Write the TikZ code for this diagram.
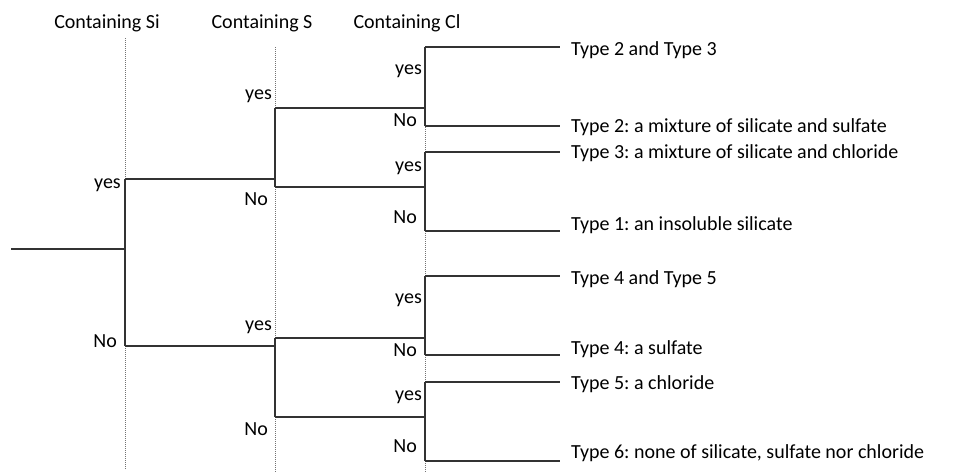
\documentclass[tikz,border=0pt]{standalone}
\usepackage{fontspec}
\setmainfont{Carlito}
\usetikzlibrary{positioning}

\begin{document}
\frenchspacing
\begin{tikzpicture}[
    x=1pt, y=-1pt,
    font=\fontsize{20}{24}\selectfont,
    branch/.style={draw=black!80, line width=1.2pt},
    guide/.style={draw=black!55, dash pattern=on 1pt off 1pt, line width=0.9pt},
    header/.style={anchor=base, inner sep=0pt},
    answer/.style={anchor=base east, inner sep=0pt},
    outcome/.style={anchor=base west, inner sep=0pt}
]
    \useasboundingbox (0,0) rectangle (974,474);

    % Column headers
    \node[header] (hsi) at (107,28) {Containing Si};
    \node[header] (hs)  at (262,28) {Containing S};
    \node[header] (hcl) at (407,28) {Containing Cl};

    % Dotted guides
    \coordinate (g1top) at (125,38);  \coordinate (g1bot) at (125,469);
    \coordinate (g2top) at (275,47);  \coordinate (g2bot) at (275,473);
    \coordinate (g3top) at (425,47);  \coordinate (g3bot) at (425,473);
    \draw[guide] (g1top) -- (g1bot);
    \draw[guide] (g2top) -- (g2bot);
    \draw[guide] (g3top) -- (g3bot);

    % Branch points
    \coordinate (root) at (11,249);
    \coordinate (si)   at (125,249);
    \coordinate (siy)  at (125,179);
    \coordinate (sin)  at (125,346);

    \coordinate (s1)  at (275,179);
    \coordinate (s1y) at (275,108);
    \coordinate (s1n) at (275,187);
    \coordinate (s2)  at (275,346);
    \coordinate (s2y) at (275,338);
    \coordinate (s2n) at (275,417);

    \coordinate (c1)  at (425,108);
    \coordinate (c1y) at (425,47);
    \coordinate (c1n) at (425,126);
    \coordinate (c2)  at (425,187);
    \coordinate (c2y) at (425,152);
    \coordinate (c2n) at (425,231);
    \coordinate (c3)  at (425,338);
    \coordinate (c3y) at (425,276);
    \coordinate (c3n) at (425,355);
    \coordinate (c4)  at (425,417);
    \coordinate (c4y) at (425,382);
    \coordinate (c4n) at (425,461);

    % Leaf ends
    \coordinate (e1) at (560,47);
    \coordinate (e2) at (560,126);
    \coordinate (e3) at (560,152);
    \coordinate (e4) at (560,231);
    \coordinate (e5) at (560,276);
    \coordinate (e6) at (560,355);
    \coordinate (e7) at (560,382);
    \coordinate (e8) at (560,461);

    % Tree
    \draw[branch] (root) -- (si);
    \draw[branch] (siy) -- (sin);
    \draw[branch] (siy) -- (s1);
    \draw[branch] (sin) -- (s2);
    \draw[branch] (s1y) -- (s1n);
    \draw[branch] (s2y) -- (s2n);
    \draw[branch] (s1y) -- (c1);
    \draw[branch] (s1n) -- (c2);
    \draw[branch] (s2y) -- (c3);
    \draw[branch] (s2n) -- (c4);
    \draw[branch] (c1y) -- (c1n);
    \draw[branch] (c2y) -- (c2n);
    \draw[branch] (c3y) -- (c3n);
    \draw[branch] (c4y) -- (c4n);
    \draw[branch] (c1y) -- (e1);
    \draw[branch] (c1n) -- (e2);
    \draw[branch] (c2y) -- (e3);
    \draw[branch] (c2n) -- (e4);
    \draw[branch] (c3y) -- (e5);
    \draw[branch] (c3n) -- (e6);
    \draw[branch] (c4y) -- (e7);
    \draw[branch] (c4n) -- (e8);

    % Answers
    \node[answer] (siyes) at (121,188) {yes};
    \node[answer] (sino)  at (117,347) {No};
    \node[answer] (s1yes) at (272,99)  {yes};
    \node[answer] (s1no)  at (268,205) {No};
    \node[answer] (s2yes) at (272,330) {yes};
    \node[answer] (s2no)  at (268,435) {No};
    \node[answer] (c1yes) at (422,74)  {yes};
    \node[answer] (c1no)  at (417,126) {No};
    \node[answer] (c2yes) at (422,171) {yes};
    \node[answer] (c2no)  at (417,223) {No};
    \node[answer] (c3yes) at (422,303) {yes};
    \node[answer] (c3no)  at (417,356) {No};
    \node[answer] (c4yes) at (422,400) {yes};
    \node[answer] (c4no)  at (417,452) {No};

    % Outcomes
    \node[outcome] (t23) at (571,55)  {Type 2 and Type 3};
    \node[outcome] (t2)  at (571,132) {Type 2: a mixture of silicate and sulfate};
    \node[outcome] (t3)  at (571,158) {Type 3: a mixture of silicate and chloride};
    \node[outcome] (t1)  at (571,230) {Type 1: an insoluble silicate};
    \node[outcome] (t45) at (571,284) {Type 4 and Type 5};
    \node[outcome] (t4)  at (571,354) {Type 4: a sulfate};
    \node[outcome] (t5)  at (571,389) {Type 5: a chloride};
    \node[outcome] (t6)  at (571,458) {Type 6: none of silicate, sulfate nor chloride};
\end{tikzpicture}
\end{document}
